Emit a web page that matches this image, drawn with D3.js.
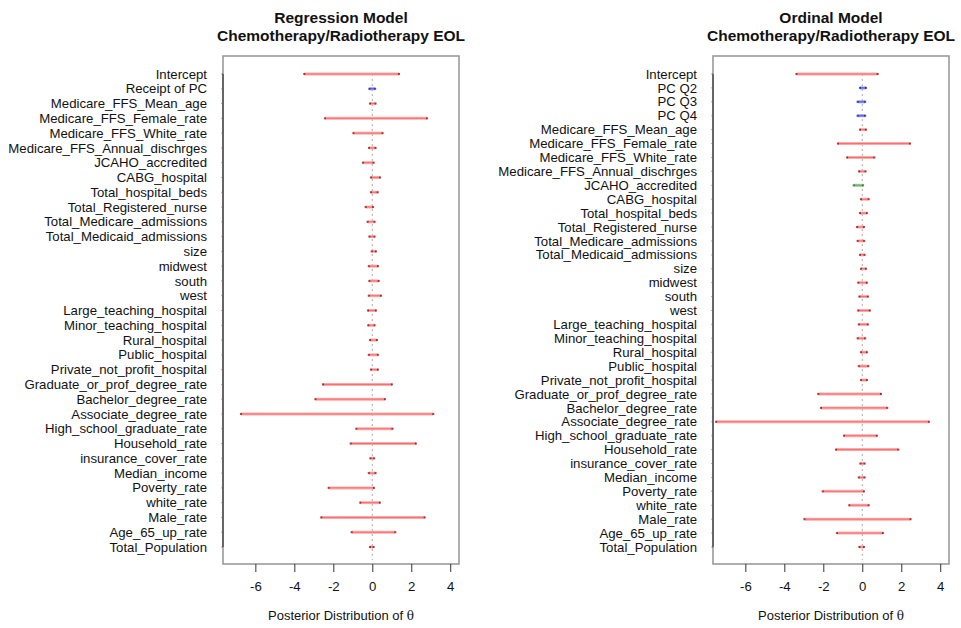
<!DOCTYPE html>
<html>
<head>
<meta charset="utf-8">
<script src="https://cdn.jsdelivr.net/npm/d3@7"></script>
<style>
  body { margin: 0; background: #fff; }
  text { font-family: "Liberation Sans", Arial, sans-serif; fill: #111; }
</style>
</head>
<body>
<script>
'use strict'

// ---- data ----
var regLabels = ['Intercept', 'Receipt of PC', 'Medicare_FFS_Mean_age', 'Medicare_FFS_Female_rate',
  'Medicare_FFS_White_rate', 'Medicare_FFS_Annual_dischrges', 'JCAHO_accredited', 'CABG_hospital',
  'Total_hospital_beds', 'Total_Registered_nurse', 'Total_Medicare_admissions', 'Total_Medicaid_admissions',
  'size', 'midwest', 'south', 'west', 'Large_teaching_hospital', 'Minor_teaching_hospital', 'Rural_hospital',
  'Public_hospital', 'Private_not_profit_hospital', 'Graduate_or_prof_degree_rate', 'Bachelor_degree_rate',
  'Associate_degree_rate', 'High_school_graduate_rate', 'Household_rate', 'insurance_cover_rate',
  'Median_income', 'Poverty_rate', 'white_rate', 'Male_rate', 'Age_65_up_rate', 'Total_Population']
var regLower = [-3.49, -0.15, -0.12, -2.43, -0.97, -0.17, -0.48, -0.07, -0.07, -0.34, -0.24, -0.15,
  -0.03, -0.18, -0.15, -0.18, -0.22, -0.21, -0.12, -0.18, -0.07, -2.53, -2.92, -6.74, -0.82, -1.11,
  -0.10, -0.18, -2.24, -0.62, -2.62, -1.06, -0.12]
var regUpper = [1.37, 0.15, 0.17, 2.81, 0.53, 0.17, 0.07, 0.40, 0.28, 0.04, 0.12, 0.12,
  0.19, 0.29, 0.33, 0.45, 0.19, 0.12, 0.24, 0.29, 0.29, 1.01, 0.65, 3.13, 1.04, 2.24,
  0.10, 0.17, 0.09, 0.39, 2.69, 1.18, 0.07]
var regGroup = regLabels.map(d => d === 'Receipt of PC' ? 'blue' : 'red')

var ordLabels = ['Intercept', 'PC Q2', 'PC Q3', 'PC Q4', 'Medicare_FFS_Mean_age', 'Medicare_FFS_Female_rate',
  'Medicare_FFS_White_rate', 'Medicare_FFS_Annual_dischrges', 'JCAHO_accredited', 'CABG_hospital',
  'Total_hospital_beds', 'Total_Registered_nurse', 'Total_Medicare_admissions', 'Total_Medicaid_admissions',
  'size', 'midwest', 'south', 'west', 'Large_teaching_hospital', 'Minor_teaching_hospital', 'Rural_hospital',
  'Public_hospital', 'Private_not_profit_hospital', 'Graduate_or_prof_degree_rate', 'Bachelor_degree_rate',
  'Associate_degree_rate', 'High_school_graduate_rate', 'Household_rate', 'insurance_cover_rate',
  'Median_income', 'Poverty_rate', 'white_rate', 'Male_rate', 'Age_65_up_rate', 'Total_Population']
var ordLower = [-3.38, -0.12, -0.24, -0.24, -0.12, -1.25, -0.78, -0.17, -0.44, -0.07, -0.12, -0.27,
  -0.24, -0.12, -0.07, -0.21, -0.15, -0.21, -0.18, -0.24, -0.07, -0.18, -0.07, -2.26, -2.12, -7.50,
  -0.94, -1.35, -0.10, -0.18, -2.03, -0.67, -2.97, -1.30, -0.15]
var ordUpper = [0.79, 0.19, 0.15, 0.15, 0.19, 2.45, 0.62, 0.17, 0.04, 0.33, 0.24, 0.09,
  0.10, 0.12, 0.19, 0.24, 0.29, 0.39, 0.29, 0.15, 0.24, 0.31, 0.24, 0.96, 1.28, 3.42,
  0.75, 1.85, 0.12, 0.12, 0.09, 0.33, 2.48, 1.06, 0.09]
var ordGroup = ordLabels.map(d => d.startsWith('PC Q') ? 'blue' : (d === 'JCAHO_accredited' ? 'green' : 'red'))

var xTicks = [-6, -4, -2, 0, 2, 4]
var xTitle = 'Posterior Distribution of '

var groupColor = {
  red: {wide: '#ffaaaa', thin: '#ee4444', end: '#880000'},
  blue: {wide: '#9999ee', thin: '#2233cc', end: '#111177'},
  green: {wide: '#99cc99', thin: '#449944', end: '#225522'}
}

var width = 961
var height = 628

var svg = d3.select('body').append('svg')
  .attr('width', width)
  .attr('height', height)

function drawPanel (opts) {
  var left = opts.left
  var right = opts.left + 236
  var top = 56
  var bottom = 564

  var x = d3.scaleLinear().domain([-7.66, 4.45]).range([left, right])
  var y = d3.scalePoint().domain(opts.labels).range([74, 547]).padding(0)

  var rows = opts.labels.map((d, i) => ({
    label: d, lo: opts.lower[i], hi: opts.upper[i], group: opts.group[i]
  }))

  var g = svg.append('g')

  // title
  var title = g.append('text')
    .attr('x', (left + right) / 2)
    .attr('text-anchor', 'middle')
    .style('font-weight', 'bold')
    .style('font-size', '15.5px')
  title.append('tspan').attr('x', (left + right) / 2).attr('y', 23).text(opts.title[0])
  title.append('tspan').attr('x', (left + right) / 2).attr('y', 41).text(opts.title[1])

  // box
  g.append('rect')
    .attr('x', left).attr('y', top)
    .attr('width', right - left).attr('height', bottom - top)
    .attr('fill', 'none')
    .attr('stroke', '#9a9a9a')
    .attr('stroke-width', 1.6)

  // y axis line + small ticks
  g.append('line')
    .attr('x1', left).attr('x2', left)
    .attr('y1', y(opts.labels[0])).attr('y2', y(opts.labels[opts.labels.length - 1]))
    .attr('stroke', '#666').attr('stroke-width', 2)
  g.selectAll('line.ytick').data(rows).enter().append('line')
    .attr('class', 'ytick')
    .attr('x1', left - 1.5).attr('x2', left)
    .attr('y1', d => y(d.label)).attr('y2', d => y(d.label))
    .attr('stroke', '#666')

  // labels
  g.selectAll('text.row-label').data(rows).enter().append('text')
    .attr('class', 'row-label')
    .attr('x', left - 16)
    .attr('y', d => y(d.label))
    .attr('dy', '0.35em')
    .attr('text-anchor', 'end')
    .style('font-size', '13.2px')
    .text(d => d.label)

  // zero reference
  g.append('line')
    .attr('x1', x(0)).attr('x2', x(0))
    .attr('y1', y(opts.labels[0])).attr('y2', bottom - 4)
    .attr('stroke', '#aaa')
    .attr('stroke-dasharray', '2,3')

  // intervals
  g.selectAll('line.wide').data(rows).enter().append('line')
    .attr('class', 'wide')
    .attr('x1', d => x(d.lo)).attr('x2', d => x(d.hi))
    .attr('y1', d => y(d.label)).attr('y2', d => y(d.label))
    .attr('stroke', d => groupColor[d.group].wide)
    .attr('stroke-width', 3)
  g.selectAll('line.thin').data(rows).enter().append('line')
    .attr('class', 'thin')
    .attr('x1', d => x(d.lo)).attr('x2', d => x(d.hi))
    .attr('y1', d => y(d.label)).attr('y2', d => y(d.label))
    .attr('stroke', d => groupColor[d.group].thin)
    .attr('stroke-opacity', 0.6)
    .attr('stroke-width', 1)
  rows.forEach(function (d) {
    [d.lo, d.hi].forEach(function (v) {
      g.append('rect')
        .attr('x', x(v) - 1).attr('y', y(d.label) - 1)
        .attr('width', 2).attr('height', 2)
        .attr('fill', groupColor[d.group].end)
        .attr('opacity', 0.7)
    })
  })

  // x axis
  var xAxis = g.append('g')
    .attr('transform', `translate(0, ${bottom})`)
    .call(d3.axisBottom(x).tickValues(xTicks).tickSize(8).tickPadding(10).tickFormat(d3.format('d')))
  xAxis.select('.domain').remove()
  xAxis.selectAll('.tick line').attr('stroke', '#333')
  xAxis.selectAll('.tick text')
    .style('font-size', '13.2px')
    .style('font-family', '"Liberation Sans", Arial, sans-serif')
    .attr('fill', '#111')
    .text(d => d < 0 ? '-' + Math.abs(d) : d)

  var xt = g.append('text')
    .attr('x', (left + right) / 2)
    .attr('y', 620)
    .attr('text-anchor', 'middle')
    .style('font-size', '13px')
  xt.append('tspan').text(xTitle)
  xt.append('tspan').style('font-family', '"DejaVu Serif", serif').style('font-size', '12px').text('θ')
}

drawPanel({left: 223, labels: regLabels, lower: regLower, upper: regUpper, group: regGroup,
  title: ['Regression Model', 'Chemotherapy/Radiotherapy EOL']})
drawPanel({left: 713, labels: ordLabels, lower: ordLower, upper: ordUpper, group: ordGroup,
  title: ['Ordinal Model', 'Chemotherapy/Radiotherapy EOL']})
</script>
</body>
</html>
